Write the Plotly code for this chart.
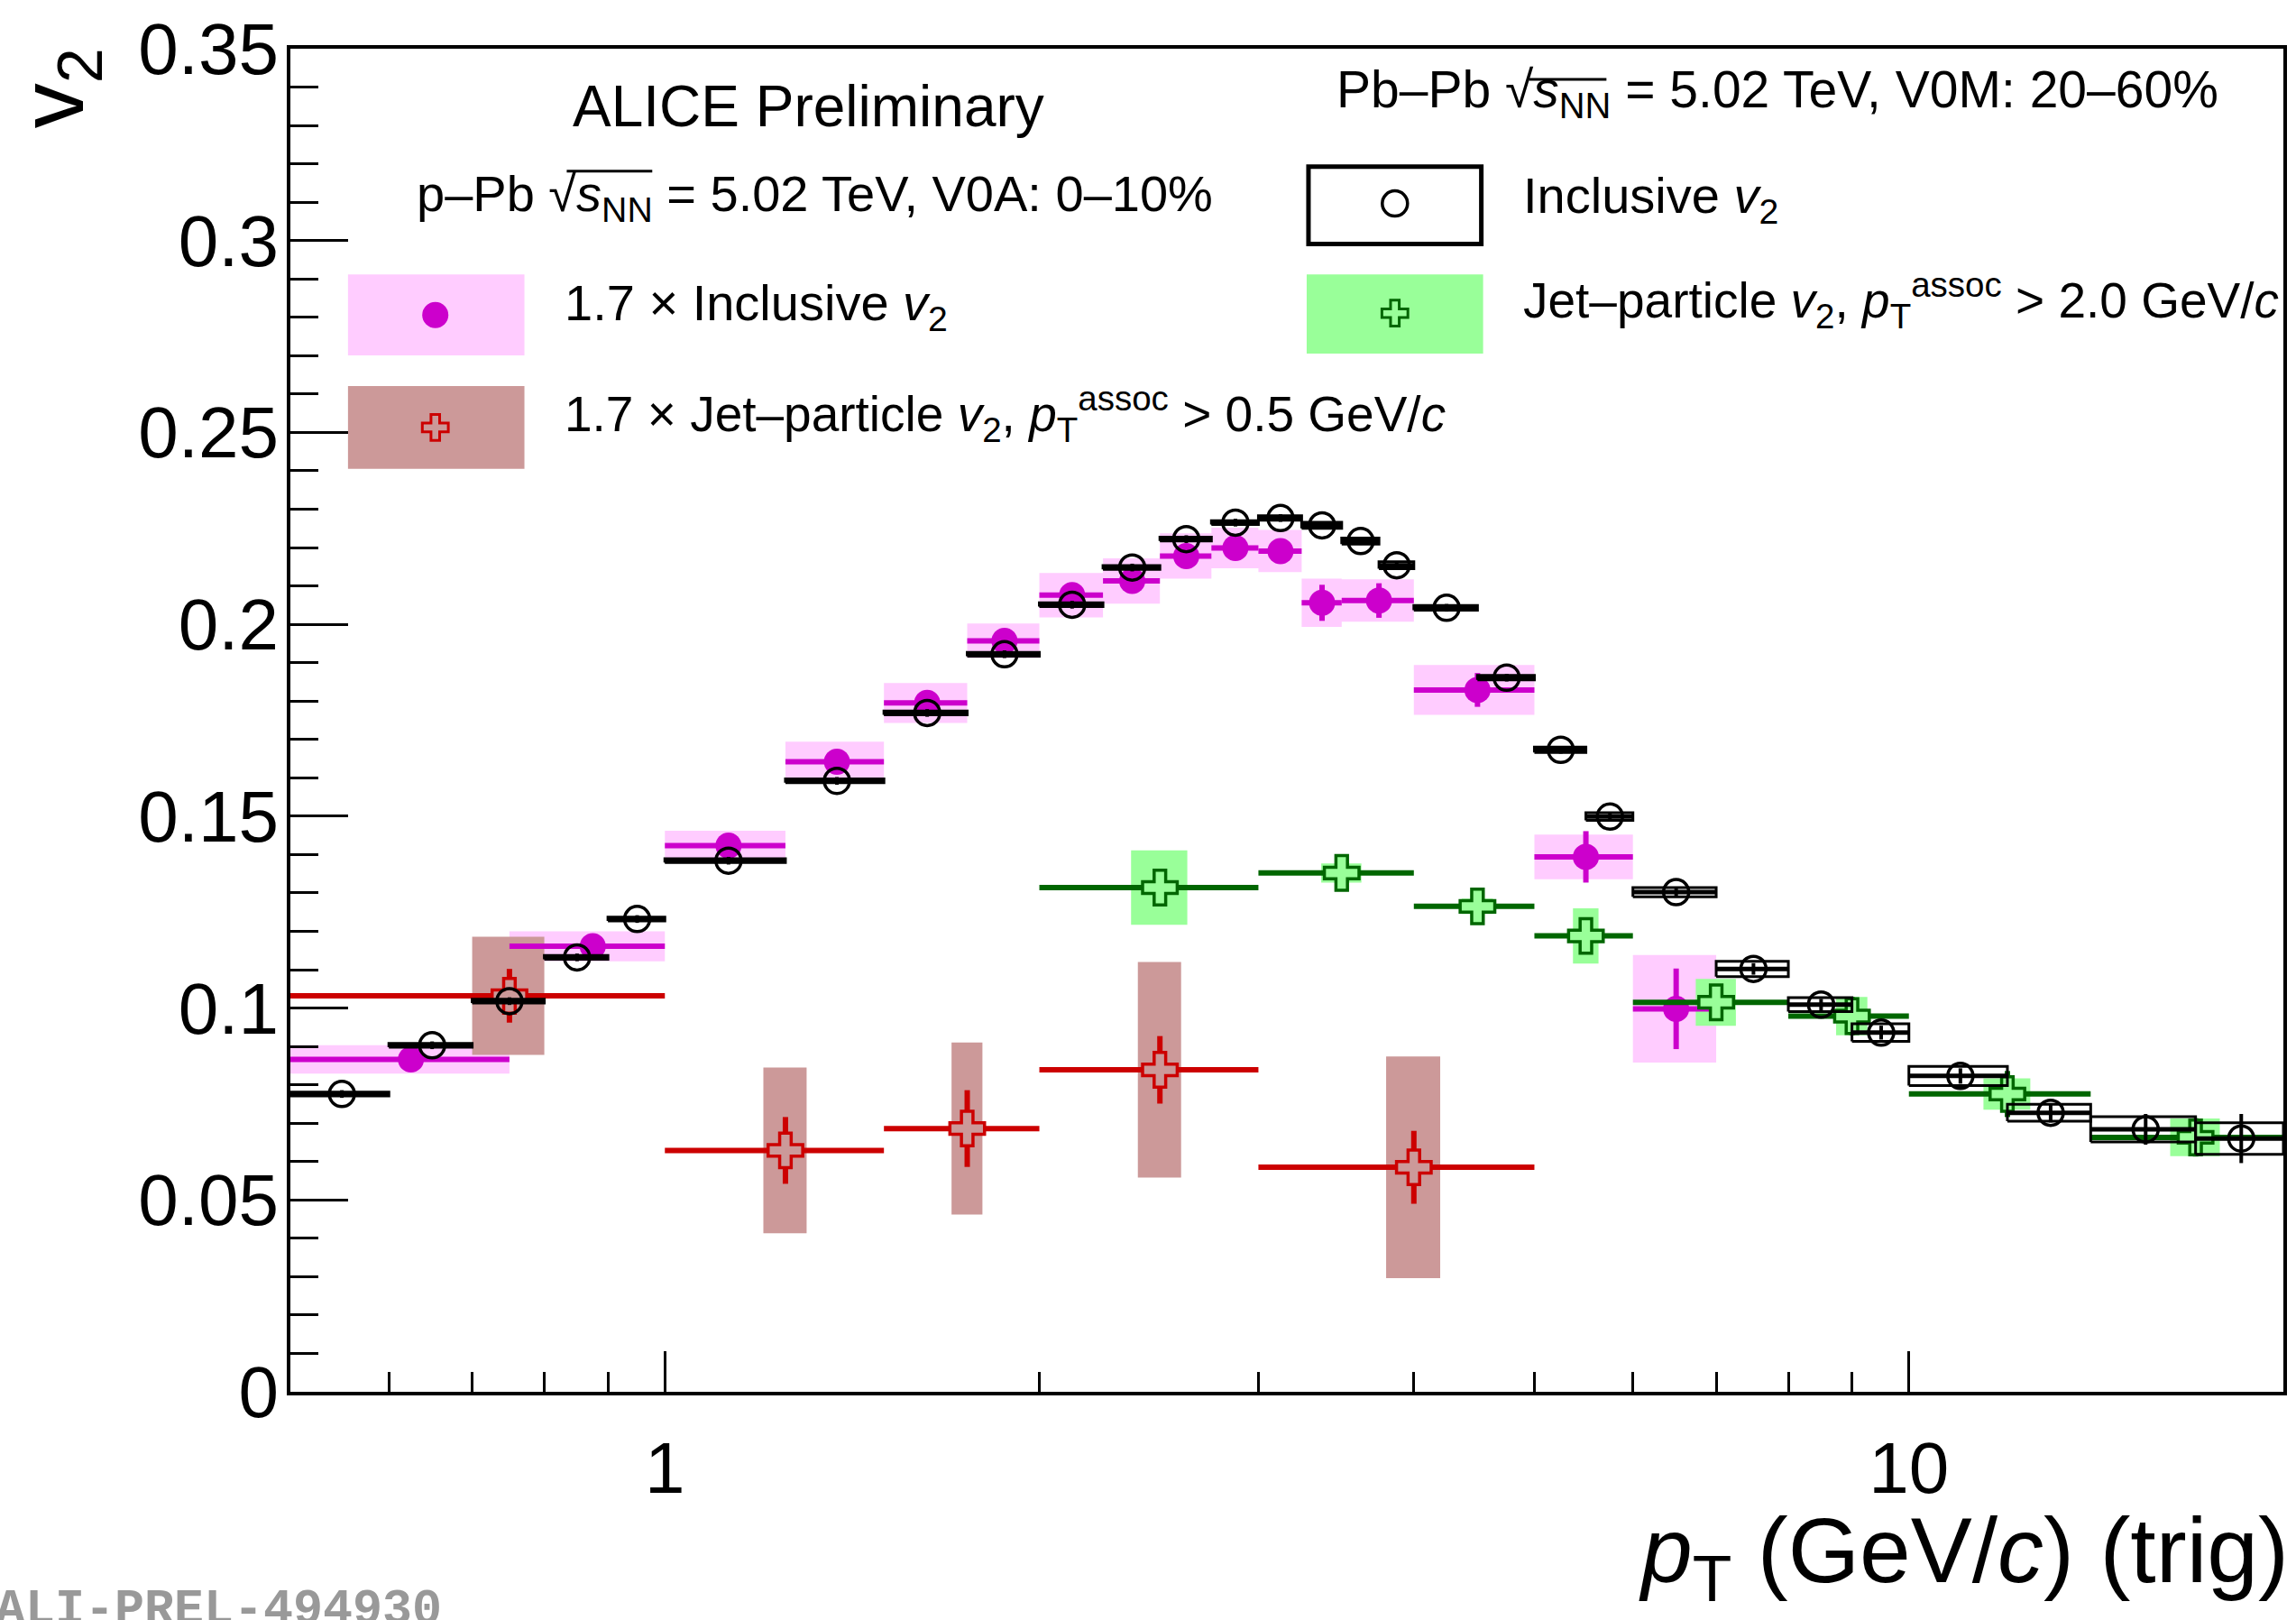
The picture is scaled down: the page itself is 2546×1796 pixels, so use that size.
import math
import plotly.graph_objects as go

# ---------------- data ----------------
# Pb-Pb inclusive v2 (open black circles, open black systematic boxes)
pbpb_lo = [0.5, 0.6, 0.7, 0.8, 0.9, 1.0, 1.25, 1.5, 1.75, 2.0, 2.25, 2.5, 2.75, 3.0, 3.25, 3.5, 3.75,
           4.0, 4.5, 5.0, 5.5, 6.0, 7.0, 8.0, 9.0, 10.0, 12.0, 14.0, 17.0]
pbpb_hi = [0.6, 0.7, 0.8, 0.9, 1.0, 1.25, 1.5, 1.75, 2.0, 2.25, 2.5, 2.75, 3.0, 3.25, 3.5, 3.75, 4.0,
           4.5, 5.0, 5.5, 6.0, 7.0, 8.0, 9.0, 10.0, 12.0, 14.0, 17.0, 20.0]
pbpb_v2 = [0.0776, 0.0903, 0.1018, 0.1132, 0.1232, 0.1384, 0.1592, 0.1769, 0.1922, 0.2051, 0.2148,
           0.2222, 0.2265, 0.2277, 0.2258, 0.2217, 0.2154, 0.2043, 0.1861, 0.1673, 0.1499, 0.1302,
           0.1102, 0.1009, 0.0936, 0.0823, 0.0727, 0.0684, 0.0660]
pbpb_stat = [0.0010, 0.0010, 0.0010, 0.0010, 0.0010, 0.0010, 0.0010, 0.0010, 0.0010, 0.0010, 0.0010,
             0.0010, 0.0010, 0.0010, 0.0010, 0.0010, 0.0010, 0.0010, 0.0010, 0.0010, 0.0010, 0.0012,
             0.0015, 0.0015, 0.0018, 0.0020, 0.0025, 0.0040, 0.0064]
pbpb_sys = [0.0005, 0.0005, 0.0005, 0.0005, 0.0005, 0.0005, 0.0005, 0.0005, 0.0005, 0.0005, 0.0005,
            0.0005, 0.0005, 0.0006, 0.0008, 0.0008, 0.0009, 0.0006, 0.0006, 0.0007, 0.0010, 0.0012,
            0.0020, 0.0018, 0.0023, 0.0025, 0.0022, 0.0033, 0.0041]

# p-Pb 1.7 x inclusive v2 (filled magenta circles, pink boxes)
ppb_lo = [0.5, 0.75, 1.0, 1.25, 1.5, 1.75, 2.0, 2.25, 2.5, 2.75, 3.0, 3.25, 3.5, 4.0, 5.0, 6.0]
ppb_hi = [0.75, 1.0, 1.25, 1.5, 1.75, 2.0, 2.25, 2.5, 2.75, 3.0, 3.25, 3.5, 4.0, 5.0, 6.0, 7.0]
ppb_v2 = [0.0866, 0.1161, 0.1423, 0.1642, 0.1795, 0.1957, 0.2076, 0.2113, 0.2178, 0.2199, 0.2191,
          0.2056, 0.2062, 0.1829, 0.1394, 0.0998]
ppb_stat = [0.0015, 0.0015, 0.0015, 0.0018, 0.0018, 0.0020, 0.0025, 0.0025, 0.0028, 0.0032, 0.0032,
            0.0047, 0.0045, 0.0044, 0.0067, 0.0105]
ppb_sys = [0.0037, 0.0039, 0.0039, 0.0052, 0.0052, 0.0045, 0.0058, 0.0059, 0.0059, 0.0053, 0.0055,
           0.0063, 0.0055, 0.0065, 0.0058, 0.0140]

# p-Pb 1.7 x jet-particle v2, pT assoc > 0.5 GeV/c (red open crosses, brown boxes)
jp05_lo = [0.5, 1.0, 1.5, 2.0, 3.0]
jp05_hi = [1.0, 1.5, 2.0, 3.0, 5.0]
jp05_v2 = [0.1032, 0.0629, 0.0686, 0.0839, 0.0585]
jp05_stat = [0.0070, 0.0087, 0.0100, 0.0088, 0.0095]
jp05_sys = [0.0154, 0.0216, 0.0224, 0.0281, 0.0289]

# p-Pb jet-particle v2, pT assoc > 2.0 GeV/c (green open crosses, light-green boxes)
jp20_lo = [2.0, 3.0, 4.0, 5.0, 6.0, 8.0, 10.0, 14.0]
jp20_hi = [3.0, 4.0, 5.0, 6.0, 8.0, 10.0, 14.0, 20.0]
jp20_v2 = [0.1314, 0.1352, 0.1265, 0.1188, 0.1015, 0.0979, 0.0776, 0.0663]
jp20_stat = [0.0030, 0.0030, 0.0030, 0.0030, 0.0030, 0.0050, 0.0060, 0.0050]
jp20_sys = [0.0097, 0.0025, 0.0020, 0.0072, 0.0061, 0.0050, 0.0041, 0.0049]

x_tick_vals = [1, 10]
x_tick_text = ["1", "10"]
x_minor_vals = [0.6, 0.7, 0.8, 0.9, 2, 3, 4, 5, 6, 7, 8, 9]
y_tick_vals = [0, 0.05, 0.1, 0.15, 0.2, 0.25, 0.3, 0.35]
y_tick_text = ["0", "0.05", "0.1", "0.15", "0.2", "0.25", "0.3", "0.35"]
X_MIN, X_MAX = 0.5, 20.0
Y_MIN, Y_MAX = 0.0, 0.35

# ---------------- layout geometry ----------------
W, H = 2546, 1796
L, R, T, B = 322, 10, 50, 253
PW = W - L - R
PH = H - T - B
FONT = "Liberation Sans, Arial, Helvetica, sans-serif"

MAGENTA = "#CC00CC"
PINK = "#FFCCFF"
RED = "#CC0000"
BROWN = "#CC9999"
DKGREEN = "#006600"
LTGREEN = "#99FF99"


def pxx(x):
    return (x - L) / PW


def pyy(y):
    return (T + PH - y) / PH


def dx(px):
    a, b = math.log10(X_MIN), math.log10(X_MAX)
    return 10 ** (a + (px - L) / PW * (b - a))


def dy(py):
    return Y_MIN + (T + PH - py) / PH * (Y_MAX - Y_MIN)


def centers(lo, hi):
    return [0.5 * (l + h) for l, h in zip(lo, hi)]


def box_path(lo, hi, v, s, frac=None):
    xs, ys = [], []
    for l, h, val, e in zip(lo, hi, v, s):
        if frac is None:
            x0, x1 = l, h
        else:
            c = 0.5 * (l + h)
            hw = 0.5 * frac * (h - l)
            x0, x1 = c - hw, c + hw
        xs += [x0, x1, x1, x0, x0, None]
        ys += [val - e, val - e, val + e, val + e, val - e, None]
    return xs, ys


def filled_boxes(lo, hi, v, s, color, frac=None):
    xs, ys = box_path(lo, hi, v, s, frac)
    return go.Scatter(x=xs, y=ys, mode="lines", fill="toself", fillcolor=color,
                      line=dict(width=0, color=color), hoverinfo="skip", showlegend=False)


def points(lo, hi, v, stat, color, marker, ex_th=6, ey_th=6):
    xc = centers(lo, hi)
    return go.Scatter(
        x=xc, y=v, mode="markers", marker=marker, showlegend=False,
        error_x=dict(type="data", symmetric=False,
                     array=[h - c for h, c in zip(hi, xc)],
                     arrayminus=[c - l for l, c in zip(lo, xc)],
                     thickness=ex_th, width=0, color=color),
        error_y=dict(type="data", array=stat, thickness=ey_th, width=0, color=color),
    )


fig = go.Figure()

# systematic boxes
fig.add_trace(filled_boxes(ppb_lo, ppb_hi, ppb_v2, ppb_sys, PINK))
fig.add_trace(filled_boxes(jp05_lo, jp05_hi, jp05_v2, jp05_sys, BROWN, frac=0.2))
fig.add_trace(filled_boxes(jp20_lo, jp20_hi, jp20_v2, jp20_sys, LTGREEN, frac=0.26))

# points
fig.add_trace(points(ppb_lo, ppb_hi, ppb_v2, ppb_stat, MAGENTA,
                     dict(symbol="circle", size=29, color=MAGENTA, line=dict(width=0))))
fig.add_trace(points(jp05_lo, jp05_hi, jp05_v2, jp05_stat, RED,
                     dict(symbol="cross", size=32, color=BROWN, line=dict(width=3.5, color=RED))))
fig.add_trace(points(jp20_lo, jp20_hi, jp20_v2, jp20_stat, DKGREEN,
                     dict(symbol="cross", size=32, color=LTGREEN, line=dict(width=3.5, color=DKGREEN))))

# Pb-Pb: open systematic boxes + open circles
bx, by = box_path(pbpb_lo, pbpb_hi, pbpb_v2, pbpb_sys)
fig.add_trace(go.Scatter(x=bx, y=by, mode="lines", line=dict(color="black", width=3),
                         hoverinfo="skip", showlegend=False))
fig.add_trace(points(pbpb_lo, pbpb_hi, pbpb_v2, pbpb_stat, "black",
                     dict(symbol="circle-open", size=28, color="black", line=dict(width=3.5, color="black")),
                     ex_th=5, ey_th=4))

# ---------------- legend (drawn manually, ROOT style) ----------------
shapes = []


def lbox(x0, y0, x1, y1, fill, line=None, lw=0):
    shapes.append(dict(type="rect", xref="paper", yref="paper",
                       x0=pxx(x0), x1=pxx(x1), y0=pyy(y1), y1=pyy(y0),
                       fillcolor=fill, line=dict(width=lw, color=line or fill), layer="below"))


def hline(x0, x1, y, lw=3):
    shapes.append(dict(type="line", xref="paper", yref="paper",
                       x0=pxx(x0), x1=pxx(x1), y0=pyy(y), y1=pyy(y),
                       line=dict(width=lw, color="black")))


lbox(386, 301, 582, 391, PINK)
lbox(386, 425, 582, 517, BROWN)
lbox(1453, 181, 1645, 267, "white", "black", 5)
lbox(1451, 301, 1647, 389, LTGREEN)

# overlines of the square-root signs
hline(629, 724, 186)
hline(1698, 1784, 84)

fig.add_trace(go.Scatter(x=[dx(483)], y=[dy(346)], mode="markers", showlegend=False, hoverinfo="skip",
                         marker=dict(symbol="circle", size=29, color=MAGENTA)))
fig.add_trace(go.Scatter(x=[dx(483)], y=[dy(471)], mode="markers", showlegend=False, hoverinfo="skip",
                         marker=dict(symbol="cross", size=24, color=BROWN, line=dict(width=3, color=RED))))
fig.add_trace(go.Scatter(x=[dx(1549)], y=[dy(222)], mode="markers", showlegend=False, hoverinfo="skip",
                         marker=dict(symbol="circle-open", size=28, color="black",
                                     line=dict(width=3.5, color="black"))))
fig.add_trace(go.Scatter(x=[dx(1549)], y=[dy(344)], mode="markers", showlegend=False, hoverinfo="skip",
                         marker=dict(symbol="cross", size=24, color=LTGREEN, line=dict(width=3, color=DKGREEN))))

annotations = []


def text(x, y, s, size, xanchor="left", yanchor="middle", angle=0, family=FONT, color="black"):
    annotations.append(dict(x=pxx(x), y=pyy(y), xref="paper", yref="paper", text=s,
                            showarrow=False, xanchor=xanchor, yanchor=yanchor, textangle=angle,
                            font=dict(family=family, size=size, color=color)))


LEG = 56
text(898, 114, "ALICE Preliminary", 64, xanchor="center")
text(460, 215, "p–Pb √<i>s</i><sub>NN</sub> = 5.02 TeV, V0A: 0–10%", LEG)
text(625, 336, "1.7 × Inclusive <i>v</i><sub>2</sub>", LEG)
text(625, 456, "1.7 × Jet–particle <i>v</i><sub>2</sub>, <i>p</i><sub>T</sub><sup>assoc</sup> > 0.5 GeV/<i>c</i>", 55)
text(1482, 99, "Pb–Pb √<i>s</i><sub>NN</sub> = 5.02 TeV, V0M: 20–60%", 57)
text(1689, 217, "Inclusive <i>v</i><sub>2</sub>", LEG)
text(1689, 330, "Jet–particle <i>v</i><sub>2</sub>, <i>p</i><sub>T</sub><sup>assoc</sup> > 2.0 GeV/<i>c</i>", 55)

# axis titles
text(2544, 1726, "<i>p</i><sub>T</sub> (GeV/<i>c</i>) (trig)", 102, xanchor="right")
text(64, 94, "v<sub>2</sub>", 100, xanchor="center", angle=-90)

# watermark
text(-8, 1753, "<b>ALI-PREL-494930</b>", 55, yanchor="top", family="Liberation Mono, Courier New, monospace",
     color="#999999")

axis_common = dict(showline=True, linecolor="black", linewidth=4, mirror=True, showgrid=False,
                   zeroline=False, ticks="inside", tickcolor="black", tickwidth=3,
                   tickfont=dict(family=FONT, size=80, color="black"))

fig.update_layout(
    width=W, height=H,
    margin=dict(l=L, r=R, t=T, b=B, pad=0),
    paper_bgcolor="white", plot_bgcolor="white",
    showlegend=False,
    xaxis=dict(type="log", range=[math.log10(X_MIN), math.log10(X_MAX)],
               tickmode="array", tickvals=x_tick_vals, ticktext=x_tick_text, ticklen=45,
               ticklabelstandoff=12,
               minor=dict(tickmode="array", tickvals=x_minor_vals, ticks="inside", ticklen=22,
                          tickwidth=3, tickcolor="black", showgrid=False),
               **axis_common),
    yaxis=dict(range=[Y_MIN, Y_MAX], tickmode="array", tickvals=y_tick_vals, ticktext=y_tick_text,
               ticklen=64, ticklabelstandoff=-7,
               minor=dict(tickmode="linear", tick0=0, dtick=0.01, ticks="inside", ticklen=31,
                          tickwidth=3, tickcolor="black", showgrid=False),
               **axis_common),
    shapes=shapes,
    annotations=annotations,
)

fig.write_html("out.html")
